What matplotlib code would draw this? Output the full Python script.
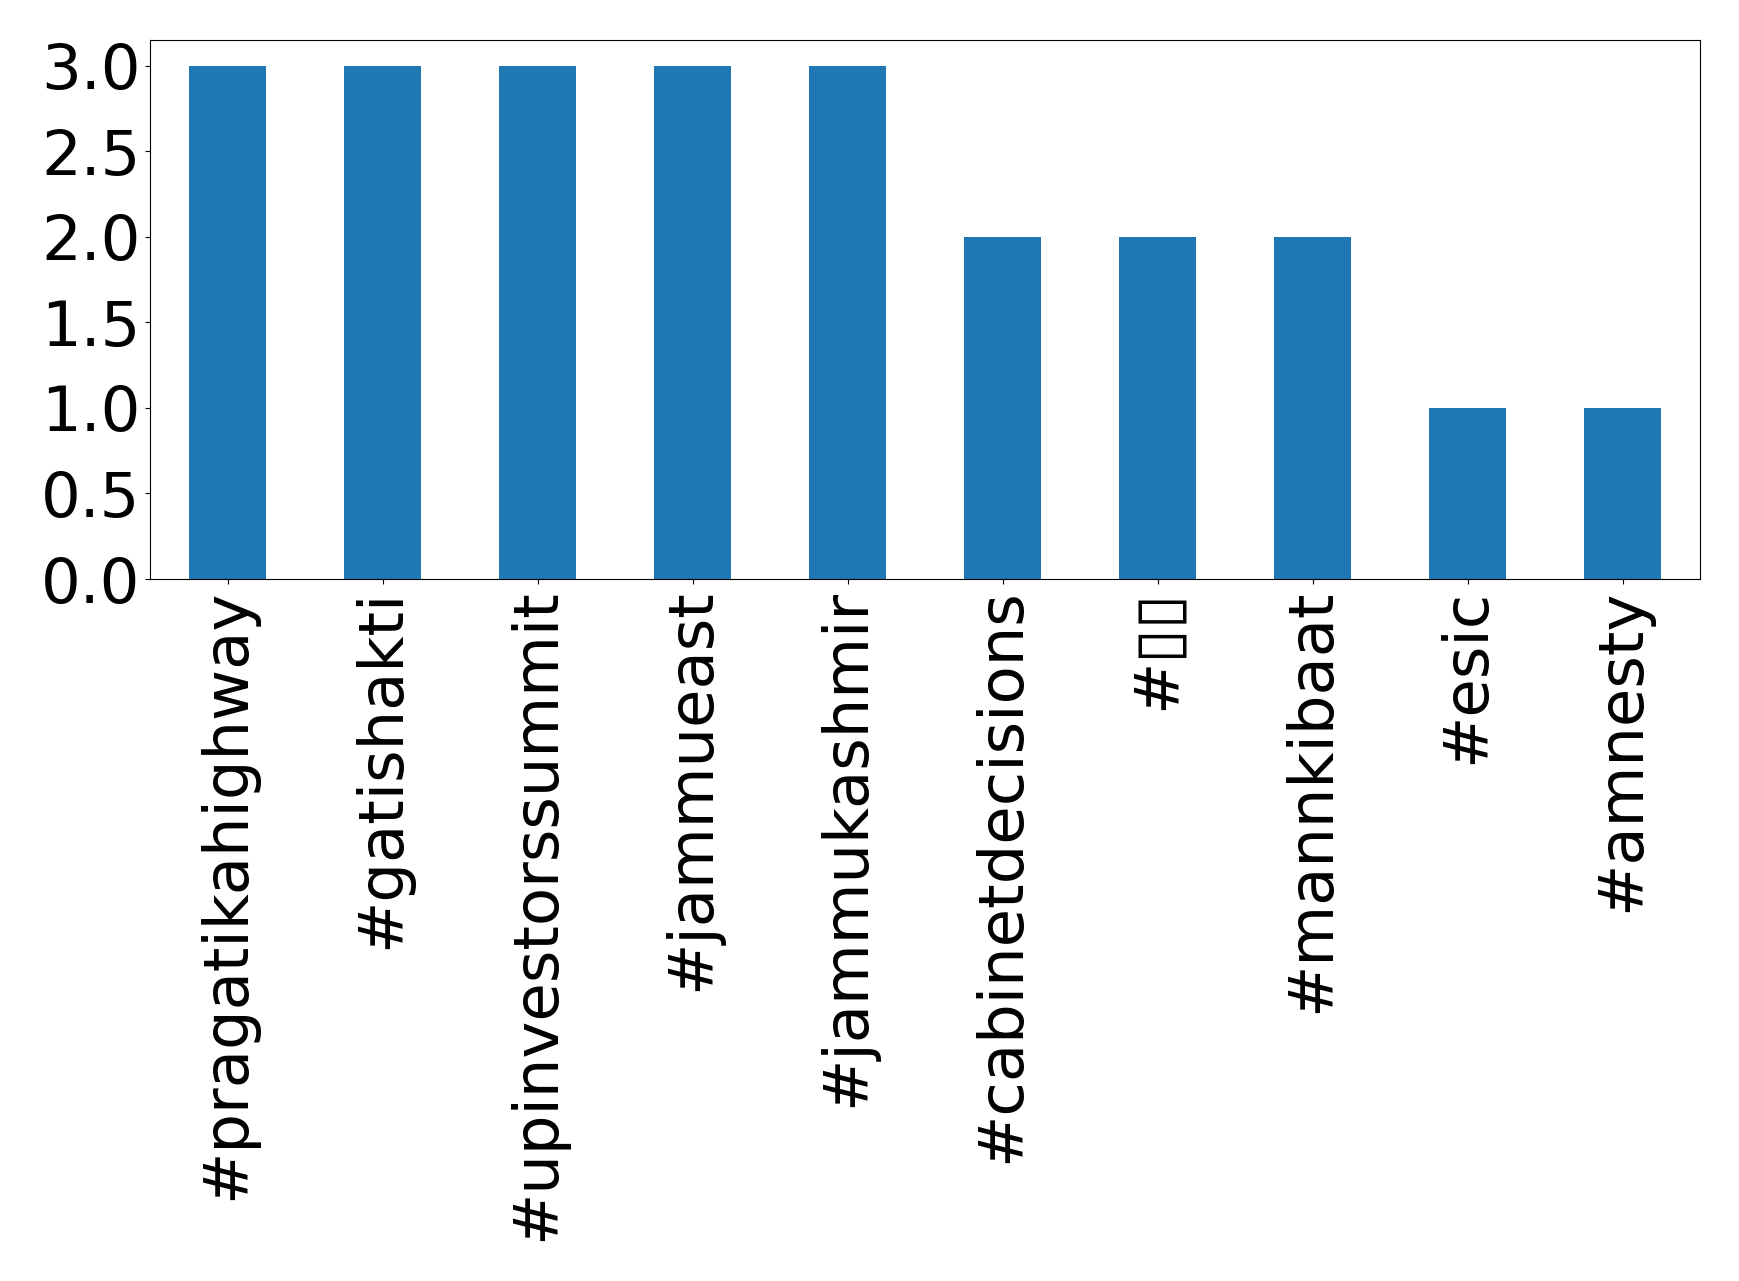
import matplotlib
matplotlib.use("Agg")
import matplotlib.pyplot as plt
import pandas as pd

# hashtag counts
# (the 7th tag shows up only as two empty boxes in the reference)
hashtags = ["#pragatikahighway", "#gatishakti", "#upinvestorssummit", "#jammueast",
            "#jammukashmir", "#cabinetdecisions", "#\u25af\u25af", "#mannkibaat", "#esic", "#amnesty"]
counts = [3, 3, 3, 3, 3, 2, 2, 2, 1, 1]

plt.rcParams['font.family'] = ['DejaVu Sans']
plt.rcParams['font.size'] = 45

fig = plt.figure(figsize=(17.39, 12.81), dpi=100)
ax = fig.add_axes([150 / 1739, 1 - 579 / 1281, 1550 / 1739, 539 / 1281])

s = pd.Series(counts, index=hashtags)
s.plot(kind='bar', ax=ax, color='#1f77b4')
ax.set_yticks([0.0, 0.5, 1.0, 1.5, 2.0, 2.5, 3.0])

fig.savefig("out.png", dpi=100)
